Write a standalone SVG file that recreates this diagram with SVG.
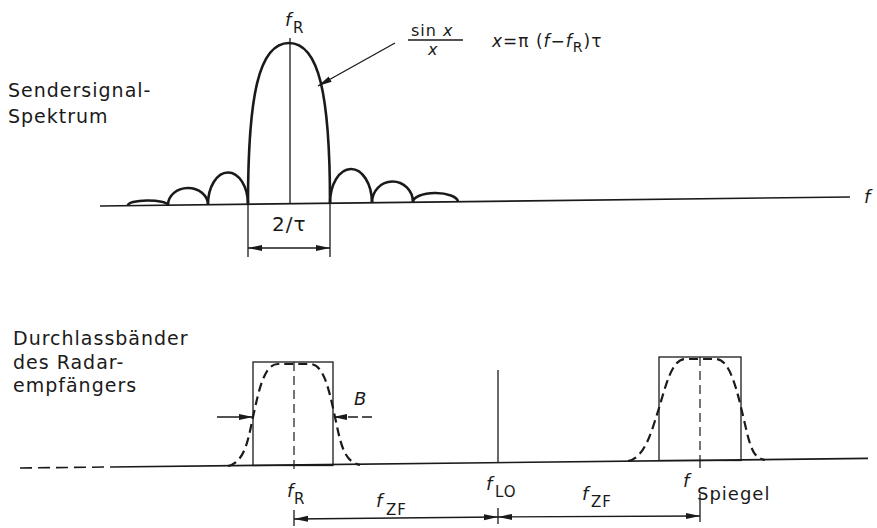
<svg xmlns="http://www.w3.org/2000/svg" width="877" height="528" viewBox="0 0 877 528">
<style>
.ln{stroke:#1a1a1a;fill:none;stroke-width:1.3}
.ax{stroke:#1a1a1a;fill:none;stroke-width:1.6}
.sc{stroke:#1a1a1a;fill:none;stroke-width:2.6}
.dc{stroke:#1a1a1a;fill:none;stroke-width:2.2;stroke-dasharray:9,5}
.dl{stroke:#1a1a1a;fill:none;stroke-width:1.2;stroke-dasharray:9,5}
.t{font-family:"DejaVu Sans",sans-serif;fill:#1a1a1a;letter-spacing:1px}
.i{font-family:"DejaVu Sans",sans-serif;font-style:italic;fill:#1a1a1a}
</style>
<defs>
<marker id="ah" markerWidth="15" markerHeight="8" refX="14" refY="4" orient="auto-start-reverse" markerUnits="userSpaceOnUse">
<path d="M0,1 L14,4 L0,7 z" fill="#1a1a1a"/>
</marker>
</defs>
<rect width="877" height="528" fill="#ffffff"/>

<g id="top-labels">
<text class="t" x="8" y="97" font-size="19">Sendersignal-</text>
<text class="t" x="8" y="123" font-size="19">Spektrum</text>
<text class="i" x="285" y="26" font-size="18">f</text>
<text class="t" x="293" y="33" font-size="15" letter-spacing="0">R</text>
<text class="t" x="411" y="36" font-size="16" letter-spacing="0.8">sin <tspan class="i">x</tspan></text>
<line class="ln" x1="408" y1="40" x2="463" y2="40"/>
<text class="i" x="428" y="55" font-size="16">x</text>
<text class="i" x="492" y="47" font-size="17" letter-spacing="1">x<tspan font-style="normal">=π (</tspan>f<tspan font-style="normal">−</tspan>f<tspan font-style="normal" font-size="14" dy="5">R</tspan><tspan font-style="normal" dy="-5">)τ</tspan></text>
<text class="t" x="272" y="231" font-size="20" letter-spacing="0.5">2/τ</text>
<text class="i" x="864" y="203" font-size="18">f</text>
</g>

<g id="spectrum">
<line class="ax" x1="100" y1="206" x2="850" y2="197"/>
<line class="ln" x1="290" y1="38" x2="290" y2="204"/>
<path class="sc" d="M248,204.2 C248,95 259,43 289,43 C319,43 330,95 330,203.2"/>
<path class="sc" d="M330,203.2 A21,34 0 0 1 372,202.7"/>
<path class="sc" d="M372,202.7 A20.5,21 0 0 1 413,202.2"/>
<path class="sc" d="M413,202.2 A22.5,9 0 0 1 458,201.7"/>
<path class="sc" d="M208,204.7 A20,32 0 0 1 248,204.2"/>
<path class="sc" d="M168,205.2 A20,17 0 0 1 208,204.7"/>
<path class="sc" d="M128,205.7 A20,5 0 0 1 168,205.2"/>
</g>

<g id="bottom-labels">
<text class="t" x="13" y="345" font-size="19">Durchlassbänder</text>
<text class="t" x="13" y="369" font-size="19">des Radar-</text>
<text class="t" x="13" y="392" font-size="19">empfängers</text>
<text class="i" x="354" y="405" font-size="18">B</text>
<text class="i" x="287" y="497" font-size="18">f</text>
<text class="t" x="294" y="504" font-size="15" letter-spacing="0">R</text>
<text class="i" x="376" y="507" font-size="18">f</text>
<text class="t" x="386" y="515" font-size="15" letter-spacing="0">ZF</text>
<text class="i" x="486" y="490" font-size="18">f</text>
<text class="t" x="495" y="497" font-size="15" letter-spacing="0">LO</text>
<text class="i" x="582" y="500" font-size="18">f</text>
<text class="t" x="591" y="507" font-size="15" letter-spacing="0">ZF</text>
<text class="i" x="683" y="487" font-size="18">f</text>
<text class="t" x="697" y="500" font-size="18" letter-spacing="0.5">Spiegel</text>
</g>

<g id="passbands">
<line class="ax" x1="20" y1="468" x2="110" y2="467" stroke-dasharray="12,6"/>
<line class="ax" x1="110" y1="467" x2="868" y2="458.4"/>
<rect class="ln" x="253" y="362" width="80" height="103.5"/>
<line class="dl" x1="294" y1="362" x2="294" y2="472"/>
<path class="dc" d="M228,466 C245,462 248,440 253,417 C259,390 264,364 278,364 L310,364 C324,364 329,390 335,417 C340,440 343,462 360,465"/>
<rect class="ln" x="659" y="357" width="82" height="103.5"/>
<line class="dl" x1="700" y1="357" x2="700" y2="460"/>
<line class="ln" x1="700" y1="460" x2="700" y2="468"/>
<path class="dc" d="M628,461 C645,458 652,430 659,408 C666,385 672,359 685,359 L716,359 C730,359 737,390 744,420 C750,445 752,458 765,460"/>
<line class="ln" x1="498" y1="370" x2="498" y2="462.5"/>
</g>

<g id="connectors">
<line class="ln" x1="395" y1="43" x2="318" y2="86" marker-end="url(#ah)"/>
<line class="ln" x1="248" y1="205" x2="248" y2="257"/>
<line class="ln" x1="330" y1="204" x2="330" y2="257"/>
<line class="ln" x1="248" y1="248" x2="330" y2="248" marker-start="url(#ah)" marker-end="url(#ah)"/>
<line class="ln" x1="217" y1="417" x2="253" y2="417" marker-end="url(#ah)"/>
<line class="ln" x1="372" y1="417" x2="333" y2="417" stroke-dasharray="10,4" marker-end="url(#ah)"/>
<line class="ln" x1="294" y1="510" x2="294" y2="526"/>
<line class="ln" x1="498" y1="508" x2="498" y2="524"/>
<line class="ln" x1="700" y1="494" x2="700" y2="522"/>
<line class="ln" x1="294" y1="519" x2="498" y2="517" marker-start="url(#ah)" marker-end="url(#ah)"/>
<line class="ln" x1="498" y1="517" x2="700" y2="516" marker-start="url(#ah)" marker-end="url(#ah)"/>
</g>
</svg>
